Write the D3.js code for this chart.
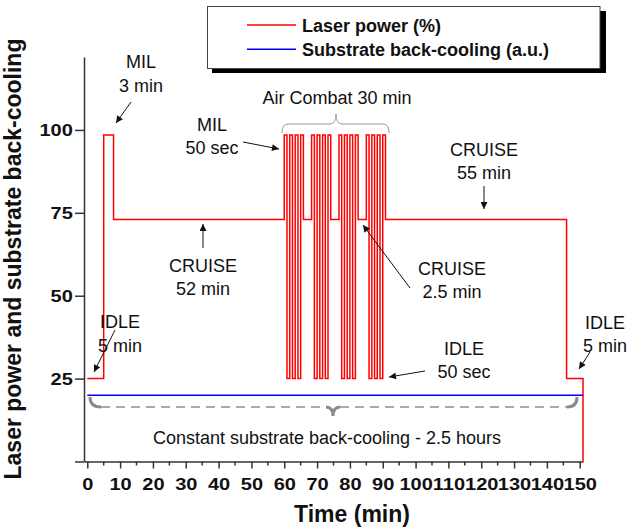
<!DOCTYPE html>
<html>
<head>
<meta charset="utf-8">
<script src="https://cdn.jsdelivr.net/npm/d3@7"></script>
<style>
  html, body { margin: 0; padding: 0; background: #fff; }
  svg { display: block; font-family: "Liberation Sans", Arial, sans-serif; }
</style>
</head>
<body>
<svg id="chart" width="633" height="529"></svg>
<script>
// Flight-mission laser power profile (step function: value holds from each start time)
const phaseStart = [0, 5, 8,
  60, 60.83, 61.67, 62.5, 63.33, 64.17, 65, 65.83,
  68.33, 69.17, 70, 70.83, 71.67, 72.5, 73.33, 74.17,
  76.67, 77.5, 78.33, 79.17, 80, 80.83, 81.67, 82.5,
  85, 85.83, 86.67, 87.5, 88.33, 89.17, 90, 90.83,
  146, 151];
const laserPower = [25, 98.5, 73,
  98.5, 25, 98.5, 25, 98.5, 25, 98.5, 73,
  98.5, 25, 98.5, 25, 98.5, 25, 98.5, 73,
  98.5, 25, 98.5, 25, 98.5, 25, 98.5, 73,
  98.5, 25, 98.5, 25, 98.5, 25, 98.5, 73,
  25, 0];

// Substrate back-cooling held constant for the whole run
const coolingTime = [0, 151];
const coolingLevel = [20, 20];

// Axis ticks
const xTicks = [0, 10, 20, 30, 40, 50, 60, 70, 80, 90, 100, 110, 120, 130, 140, 150];
const xMinorTicks = [5, 15, 25, 35, 45, 55, 65, 75, 85, 95, 105, 115, 125, 135, 145];
const yTicks = [0, 25, 50, 75, 100];
const yTickLabels = ["", "25", "50", "75", "100"];

// Legend entries
const legendLabels = ["Laser power (%)", "Substrate back-cooling (a.u.)"];
const legendColors = ["#ff0000", "#0000ff"];

const svg = d3.select("#chart");
const x = d3.scaleLinear().domain([-1, 151]).range([84, 583]);
const y = d3.scaleLinear().domain([0, 122]).range([461.5, 57]);

const axisColor = "#333";

// Arrow marker
const defs = svg.append("defs");
defs.append("marker")
  .attr("id", "arrow")
  .attr("viewBox", "0 0 10 10")
  .attr("refX", 10).attr("refY", 5)
  .attr("markerWidth", 9).attr("markerHeight", 7)
  .attr("markerUnits", "userSpaceOnUse")
  .attr("orient", "auto")
  .append("path").attr("d", "M0,0 L10,5 L0,10 Z").attr("fill", "#111");

// X axis
const xAxis = svg.append("g").attr("transform", `translate(0,${y(0)})`)
  .call(d3.axisBottom(x).tickValues(xTicks).tickSize(7).tickSizeOuter(0).tickFormat(d3.format("d")));
xAxis.select(".domain").attr("stroke", axisColor).attr("stroke-width", 1.5);
xAxis.selectAll(".tick line").attr("stroke", axisColor).attr("stroke-width", 1.5);
xAxis.selectAll(".tick text")
  .attr("y", 28.5).attr("dy", 0)
  .attr("transform", "scale(1.25,1)")
  .attr("font-size", 16).attr("font-weight", "bold")
  .attr("font-family", "'Liberation Sans', Arial, sans-serif")
  .attr("fill", "#111");
xAxis.selectAll(".minor").data(xMinorTicks).enter().append("line")
  .attr("class", "minor")
  .attr("x1", d => x(d)).attr("x2", d => x(d))
  .attr("y1", 0).attr("y2", 4)
  .attr("stroke", axisColor).attr("stroke-width", 1.5);

// Y axis
const yAxis = svg.append("g").attr("transform", `translate(${x(-1)},0)`)
  .call(d3.axisLeft(y).tickValues(yTicks).tickSize(9).tickSizeOuter(0)
    .tickFormat((d, i) => yTickLabels[i]));
yAxis.select(".domain").attr("stroke", axisColor).attr("stroke-width", 1.5);
yAxis.selectAll(".tick line").attr("stroke", axisColor).attr("stroke-width", 1.5);
yAxis.selectAll(".tick text")
  .attr("x", -9).attr("dy", "0.36em")
  .attr("transform", "scale(1.25,1)")
  .attr("font-size", 16).attr("font-weight", "bold")
  .attr("font-family", "'Liberation Sans', Arial, sans-serif")
  .attr("fill", "#111");

// Axis titles
svg.append("text")
  .attr("x", 352).attr("y", 522)
  .attr("text-anchor", "middle")
  .attr("font-size", 23).attr("font-weight", "bold").attr("fill", "#111")
  .text("Time (min)");
svg.append("text")
  .attr("transform", "translate(21,259) rotate(-90)")
  .attr("text-anchor", "middle")
  .attr("font-size", 23).attr("font-weight", "bold").attr("fill", "#111")
  .text("Laser power and substrate back-cooling");

// Laser power trace
const powerData = phaseStart.map((t, i) => [t, laserPower[i]]);
const line = d3.line().x(d => x(d[0])).y(d => y(d[1]));
svg.append("path")
  .attr("d", line.curve(d3.curveStepAfter)(powerData))
  .attr("fill", "none").attr("stroke", "#ff0000").attr("stroke-width", 1.5);

// Back-cooling trace
const coolingData = coolingTime.map((t, i) => [t, coolingLevel[i]]);
svg.append("path")
  .attr("d", d3.line().x(d => x(d[0])).y(d => y(d[1]))(coolingData))
  .attr("fill", "none").attr("stroke", "#0000ff").attr("stroke-width", 1.5);

// Brace over the air-combat segment
svg.append("path")
  .attr("d", "M282,133 Q282,124 288,124 L330,124 Q336,124 336,114 Q336,124 342,124 L383,124 Q389,124 389,133")
  .attr("fill", "none").attr("stroke", "#9a9a9a").attr("stroke-width", 1);

// Brace under the back-cooling trace
const braceG = svg.append("g").attr("fill", "none");
braceG.append("path")
  .attr("d", "M101,407 L326,407 M340,407 L567,407")
  .attr("stroke", "#aaa").attr("stroke-width", 2).attr("stroke-dasharray", "9,6");
braceG.append("path")
  .attr("d", "M90,397 Q90,407 101,407 M577,397 Q577,407 567,407 M326,407 Q333,407 333,416 Q333,407 340,407")
  .attr("stroke", "#8a8a8a").attr("stroke-width", 3);

// Annotations
const ann = svg.append("g").attr("font-size", 18).attr("fill", "#111").attr("text-anchor", "middle");
const notes = [
  ["MIL", 141, 68], ["3 min", 141, 92],
  ["Air Combat 30 min", 337, 104],
  ["MIL", 212, 131], ["50 sec", 212, 154],
  ["CRUISE", 484, 156], ["55 min", 484, 179],
  ["CRUISE", 203, 272], ["52 min", 203, 295],
  ["CRUISE", 452, 275], ["2.5 min", 452, 298],
  ["IDLE", 120, 328], ["5 min", 120, 352],
  ["IDLE", 464, 355], ["50 sec", 464, 378],
  ["IDLE", 605, 329], ["5 min", 605, 352],
  ["Constant substrate back-cooling - 2.5 hours", 327, 444]
];
notes.forEach(n => ann.append("text").attr("x", n[1]).attr("y", n[2]).text(n[0]));

const arrows = [
  [131, 102, 116, 123],
  [115, 330, 94, 372],
  [243, 142, 279, 149],
  [484, 186, 484, 209],
  [203, 248, 203, 224],
  [410, 288, 363, 225],
  [425, 371, 389, 377],
  [590, 352, 579, 369]
];
svg.append("g").selectAll("line").data(arrows).enter().append("line")
  .attr("x1", d => d[0]).attr("y1", d => d[1])
  .attr("x2", d => d[2]).attr("y2", d => d[3])
  .attr("stroke", "#111").attr("stroke-width", 1)
  .attr("marker-end", "url(#arrow)");

// Legend
const legend = svg.append("g");
legend.append("rect").attr("x", 212).attr("y", 11).attr("width", 394).attr("height", 62).attr("fill", "#000");
legend.append("rect").attr("x", 207.5).attr("y", 6.5).attr("width", 392.5).attr("height", 62)
  .attr("fill", "#fff").attr("stroke", "#444").attr("stroke-width", 1);
legendLabels.forEach((lab, i) => {
  const ly = 25 + i * 24.3;
  legend.append("line").attr("x1", 247).attr("x2", 296).attr("y1", ly).attr("y2", ly)
    .attr("stroke", legendColors[i]).attr("stroke-width", 1.5);
  legend.append("text").attr("x", 302).attr("y", ly + 7)
    .attr("font-size", 18).attr("font-weight", "bold").attr("fill", "#111")
    .text(lab);
});
</script>
</body>
</html>
